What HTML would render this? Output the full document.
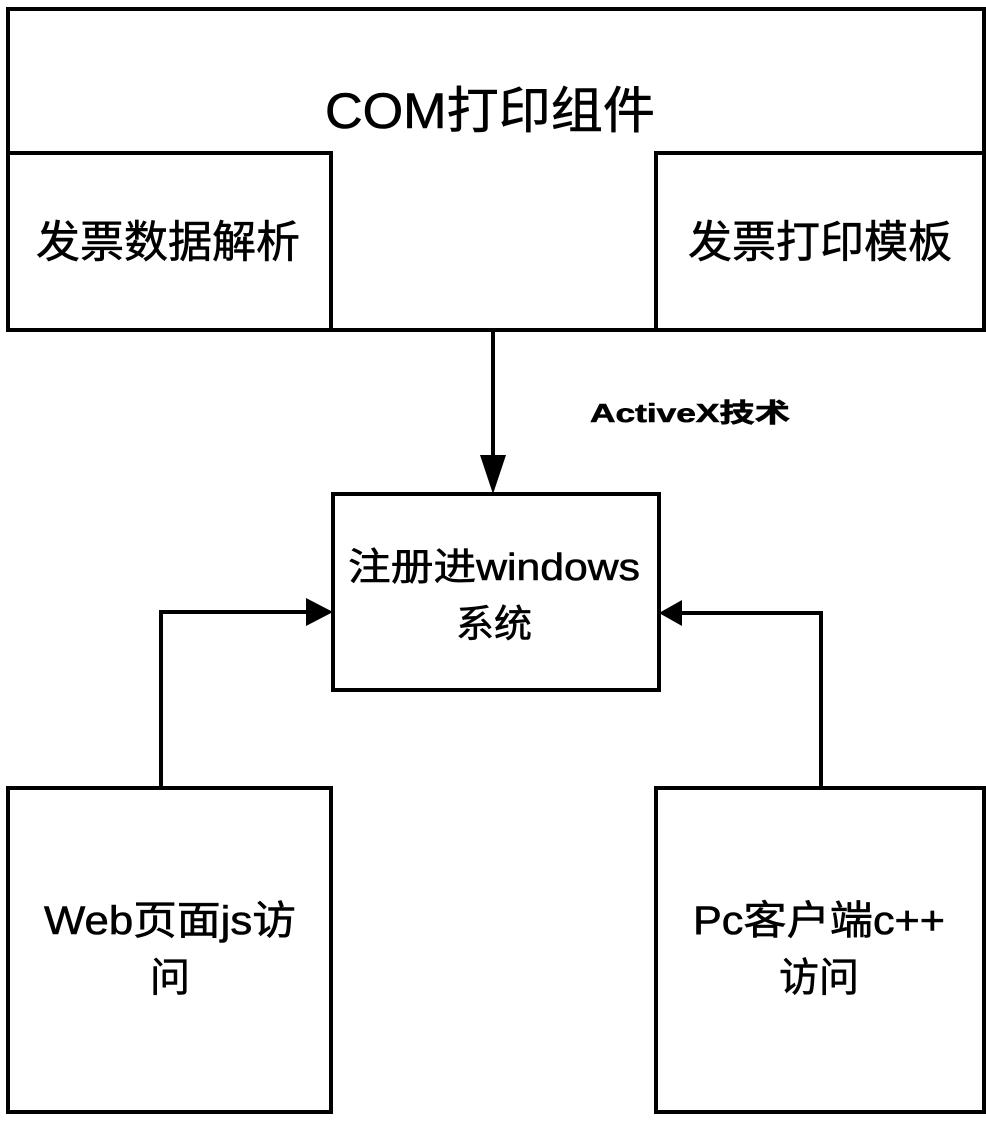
<!DOCTYPE html>
<html><head><meta charset="utf-8"><style>
body{margin:0;background:#fff;width:986px;height:1119px;overflow:hidden}
svg text{font-family:"Liberation Sans","Noto Sans CJK SC",sans-serif;fill:#000;stroke:#000;stroke-width:0.6}
</style></head><body>
<svg width="986" height="1119" viewBox="0 0 986 1119" xmlns="http://www.w3.org/2000/svg">
<g fill="none" stroke="#000" stroke-width="4">
<rect x="8" y="9" width="976" height="321"/>
<rect x="8" y="153" width="323" height="177"/>
<rect x="656" y="153" width="328" height="177"/>
<rect x="333" y="494" width="326" height="196"/>
<rect x="8" y="788" width="323" height="324"/>
<rect x="656" y="788" width="328" height="324"/>
<line x1="493" y1="332" x2="493" y2="460"/>
<polyline points="161,786 161,612 312,612"/>
<polyline points="821,786 821,613 680,613"/>
</g>
<polygon points="480,455 506,455 493,494" fill="#000"/>
<polygon points="306,598 306,626 333,612" fill="#000"/>
<polygon points="682,600 682,626 659,613" fill="#000"/>
<text x="490" y="128" font-size="50" text-anchor="middle" textLength="330" lengthAdjust="spacingAndGlyphs">COM打印组件</text>
<text x="168" y="257" font-size="44" text-anchor="middle">发票数据解析</text>
<text x="820" y="257" font-size="44" text-anchor="middle">发票打印模板</text>
<text x="590" y="422" font-size="26" font-weight="bold" font-family="Liberation Mono,Noto Sans CJK SC,monospace" textLength="200" lengthAdjust="spacingAndGlyphs">ActiveX技术</text>
<text x="494" y="580" font-size="38" text-anchor="middle" textLength="292" lengthAdjust="spacingAndGlyphs">注册进windows</text>
<text x="494" y="637" font-size="38" text-anchor="middle">系统</text>
<text x="170" y="934" font-size="40" text-anchor="middle" textLength="252" lengthAdjust="spacingAndGlyphs">Web页面js访</text>
<text x="170" y="991" font-size="40" text-anchor="middle">问</text>
<text x="819" y="934" font-size="40" text-anchor="middle" textLength="252" lengthAdjust="spacingAndGlyphs">Pc客户端c++</text>
<text x="819" y="991" font-size="40" text-anchor="middle">访问</text>
</svg>
</body></html>
